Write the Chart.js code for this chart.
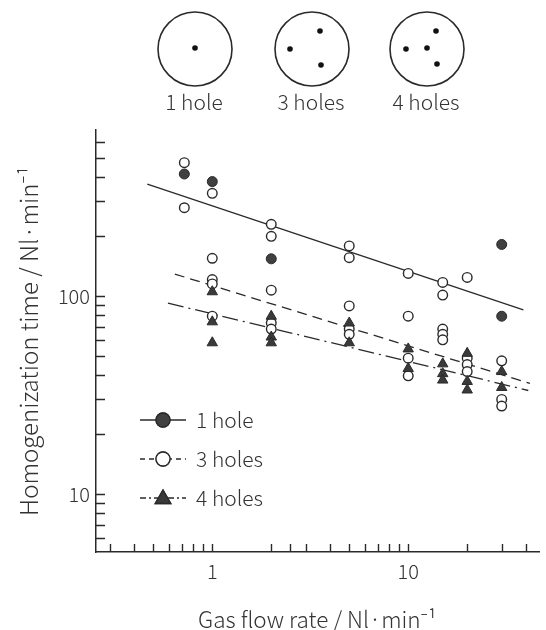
<!DOCTYPE html>
<html>
<head>
<meta charset="utf-8">
<script src="https://cdn.jsdelivr.net/npm/chart.js@4.4.1/dist/chart.umd.min.js"></script>
<style>
  html, body { margin: 0; padding: 0; background: #fff; }
  #wrap { width: 546px; height: 630px; }
</style>
</head>
<body>
<div id="wrap"><canvas id="chart" width="546" height="630"></canvas></div>
<script>
// font e colori
const FONT = '"Noto Sans CJK JP", "Noto Sans", sans-serif';
const INK = '#2a2a2a';
const TXT = '#333';

// ——— DATI ———
// 1 hole (cerchi pieni)
const oneHoleX = [0.72, 1, 2, 30, 30];
const oneHoleY = [413, 378, 154, 182, 79];
// 3 holes (cerchi vuoti)
const threeHolesX = [0.72, 0.72, 1, 1, 1, 1, 1, 2, 2, 2, 2, 2, 5, 5, 5, 5, 5, 10, 10, 10, 10, 15, 15, 15, 15, 15, 20, 20, 20, 20, 30, 30, 30];
const threeHolesY = [471, 279, 330, 155, 121, 115, 79, 230, 200, 107, 73, 68, 179, 156, 89, 68, 64, 130, 79, 48.5, 39.5, 117, 101, 68, 64, 60, 124, 48.5, 45, 41.5, 47, 30, 27.8];
// 4 holes (triangoli)
const fourHolesX = [1, 1, 1, 2, 2, 2, 5, 5, 10, 10, 15, 15, 15, 20, 20, 20, 30, 30];
const fourHolesY = [105, 74, 58, 79, 62, 58, 73, 58, 54, 43, 45.4, 40.5, 37.6, 51.3, 37, 33.5, 41.5, 34.5];
// rette di regressione (estremi)
const fitOneX = [0.466, 38.7];
const fitOneY = [367, 85];
const fitThreeX = [0.644, 41.8];
const fitThreeY = [129, 36.2];
const fitFourX = [0.594, 41];
const fitFourY = [92, 33.3];

// tacche assi
const xTicks = [0.3, 0.4, 0.5, 0.6, 0.7, 0.8, 0.9, 1, 2, 2.5, 3, 4, 5, 6, 7, 8, 9, 10, 20, 30, 40];
const xLabels = [1, 10];
const yTicks = [6, 7, 8, 9, 10, 20, 30, 40, 50, 60, 70, 80, 90, 100, 200, 300, 400, 500, 600];
const yLabels = [10, 100];

const seriesNames = ['1 hole', '3 holes', '4 holes'];

const pts = (xs, ys) => xs.map((x, i) => ({ x, y: ys[i] }));

const DASH_THREE = [10, 6];
const DASH_FOUR = [16, 5, 2, 5];

// ——— PLUGIN: tacche interne + etichette asse x ———
const inTicks = {
  id: 'inTicks',
  afterDraw(chart) {
    const { ctx, chartArea: a, scales: { x, y } } = chart;
    ctx.save();
    ctx.strokeStyle = INK;
    ctx.lineWidth = 1.4;
    ctx.beginPath();
    x.ticks.forEach(t => {
      const px = Math.round(x.getPixelForValue(t.value)) + 0.5;
      ctx.moveTo(px, a.bottom);
      ctx.lineTo(px, a.bottom - 8);
    });
    y.ticks.forEach(t => {
      const py = Math.round(y.getPixelForValue(t.value)) + 0.5;
      ctx.moveTo(a.left, py);
      ctx.lineTo(a.left + 9, py);
    });
    ctx.stroke();
    // etichette x (1, 10) sotto l'asse
    ctx.fillStyle = TXT;
    ctx.font = '300 20px ' + FONT;
    ctx.textAlign = 'center';
    ctx.textBaseline = 'alphabetic';
    xLabels.forEach(v => ctx.fillText(String(v), x.getPixelForValue(v), a.bottom + 27));
    ctx.restore();
  }
};

// ——— PLUGIN: legenda dentro il grafico ———
const innerLegend = {
  id: 'innerLegend',
  afterDraw(chart) {
    const { ctx } = chart;
    const ds = chart.data.datasets;
    const items = [
      { pt: ds[2], ln: ds[3] },
      { pt: ds[1], ln: ds[4] },
      { pt: ds[0], ln: ds[5] }
    ];
    const x0 = 140, x1 = 186, xm = 163, xt = 196;
    const rows = [420, 459, 498];
    ctx.save();
    items.forEach((it, i) => {
      const yy = rows[i];
      ctx.strokeStyle = INK;
      ctx.lineWidth = 1.3;
      ctx.setLineDash(it.ln.borderDash ? [5, 4] : []);
      if (i === 2) ctx.setLineDash([6, 3, 2, 3]);
      ctx.beginPath();
      ctx.moveTo(x0, yy);
      ctx.lineTo(x1, yy);
      ctx.stroke();
      ctx.setLineDash([]);
      Chart.helpers.drawPoint(ctx, {
        pointStyle: it.pt.pointStyle,
        radius: it.pt.pointStyle === 'triangle' ? 9 : 7,
        borderWidth: 1.3
      }, xm, it.pt.pointStyle === 'triangle' ? yy + 1 : yy);
      ctx.fillStyle = it.pt.backgroundColor;
      ctx.strokeStyle = it.pt.borderColor;
      ctx.fill();
      ctx.stroke();
      ctx.fillStyle = TXT;
      ctx.font = '300 21px ' + FONT;
      ctx.textAlign = 'left';
      ctx.textBaseline = 'middle';
      ctx.fillText(it.pt.label, xt, yy);
    });
    ctx.restore();
  }
};

// ——— PLUGIN: schema ugelli in alto ———
const nozzles = [
  { cx: 195, label: '1 hole', dots: [[0, -1]] },
  { cx: 312, label: '3 holes', dots: [[8, -18], [-22, 0], [9, 16]] },
  { cx: 427, label: '4 holes', dots: [[9, -18], [-21, 0], [0, -1], [10, 15]] }
];
const nozzleDiagram = {
  id: 'nozzleDiagram',
  afterDraw(chart) {
    const { ctx } = chart;
    const cy = 49, r = 37;
    ctx.save();
    nozzles.forEach(n => {
      ctx.strokeStyle = INK;
      ctx.lineWidth = 1.6;
      ctx.beginPath();
      ctx.arc(n.cx, cy, r, 0, Math.PI * 2);
      ctx.stroke();
      ctx.fillStyle = '#111';
      n.dots.forEach(([dx, dy]) => {
        ctx.beginPath();
        ctx.arc(n.cx + dx, cy + dy, 2.8, 0, Math.PI * 2);
        ctx.fill();
      });
      ctx.fillStyle = TXT;
      ctx.font = '300 21px ' + FONT;
      ctx.textAlign = 'center';
      ctx.textBaseline = 'middle';
      ctx.fillText(n.label, n.cx - 1, 102);
    });
    ctx.restore();
  }
};

const ctx = document.getElementById('chart').getContext('2d');
new Chart(ctx, {
  type: 'scatter',
  data: {
    datasets: [
      { label: seriesNames[2], data: pts(fourHolesX, fourHolesY), pointStyle: 'triangle', pointRadius: 6,
        backgroundColor: '#3a3a3a', borderColor: '#2a2a2a', borderWidth: 1 },
      { label: seriesNames[1], data: pts(threeHolesX, threeHolesY), pointStyle: 'circle', pointRadius: 4.8,
        backgroundColor: '#fff', borderColor: '#2a2a2a', borderWidth: 1.4 },
      { label: seriesNames[0], data: pts(oneHoleX, oneHoleY), pointStyle: 'circle', pointRadius: 5,
        backgroundColor: '#404040', borderColor: '#2a2a2a', borderWidth: 1 },
      { type: 'line', data: pts(fitOneX, fitOneY), borderColor: INK, borderWidth: 1.3, pointRadius: 0, fill: false },
      { type: 'line', data: pts(fitThreeX, fitThreeY), borderColor: INK, borderWidth: 1.3, borderDash: DASH_THREE, pointRadius: 0, fill: false },
      { type: 'line', data: pts(fitFourX, fitFourY), borderColor: INK, borderWidth: 1.3, borderDash: DASH_FOUR, pointRadius: 0, fill: false }
    ]
  },
  options: {
    responsive: false,
    animation: false,
    layout: { padding: { top: 130, right: 0, bottom: 0, left: 0 } },
    plugins: { legend: { display: false }, tooltip: { enabled: false } },
    scales: {
      x: {
        type: 'logarithmic',
        min: 0.255,
        max: 46.5,
        afterFit: s => { s.height = 78; s.paddingLeft = 0; s.paddingRight = 0; },
        afterBuildTicks: s => { s.ticks = xTicks.map(v => ({ value: v })); },
        grid: { display: false, drawTicks: false, tickLength: 0 },
        border: { color: INK, width: 1.5 },
        ticks: { autoSkip: false, maxRotation: 0, display: false },
        title: {
          display: true, text: 'Gas flow rate / Nl·min⁻¹', color: TXT,
          font: { family: FONT, size: 22.5, weight: '300', lineHeight: 1 },
          padding: { top: 0, bottom: -1 }
        }
      },
      y: {
        type: 'logarithmic',
        min: 5.09,
        max: 689,
        afterFit: s => { s.width = 96; s.paddingTop = 0; s.paddingBottom = 0; },
        afterBuildTicks: s => { s.ticks = yTicks.map(v => ({ value: v })); },
        grid: { display: false, drawTicks: false, tickLength: 0 },
        border: { color: INK, width: 1.5 },
        ticks: {
          autoSkip: false, padding: 6, color: TXT,
          font: { family: FONT, size: 20, weight: '300' },
          callback: v => yLabels.includes(v) ? String(v) : ''
        },
        title: {
          display: true, text: 'Homogenization time / Nl·min⁻¹', color: TXT,
          font: { family: FONT, size: 24, weight: '300', lineHeight: 1 },
          padding: { top: 17, bottom: 0 }
        }
      }
    }
  },
  plugins: [inTicks, innerLegend, nozzleDiagram]
});
</script>
</body>
</html>
